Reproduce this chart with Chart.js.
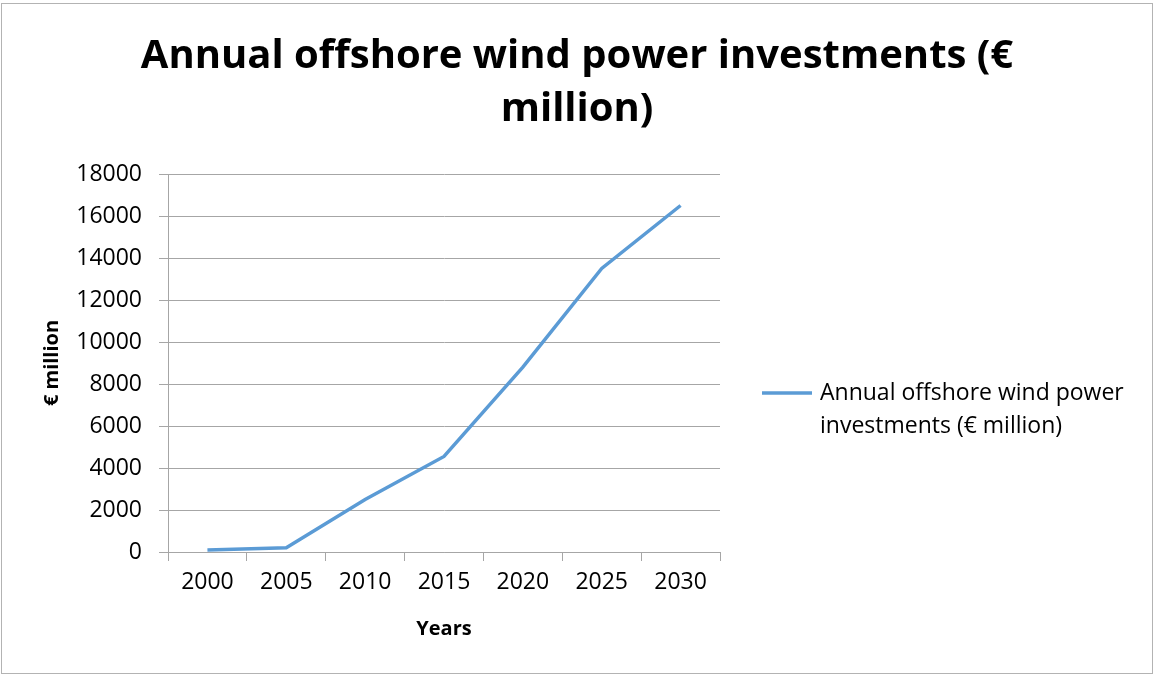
<!DOCTYPE html>
<html>
<head>
<meta charset="utf-8">
<script src="https://cdn.jsdelivr.net/npm/chart.js@4.4.1/dist/chart.umd.min.js"></script>
<style>
    html, body { margin: 0; padding: 0; background: #ffffff; }
    #wrap { width: 1154px; height: 675px; position: relative; }
</style>
</head>
<body>
<div id="wrap"><canvas id="windChart" width="1154" height="675"></canvas></div>
<script>
// --- Data ---
const years = ['2000', '2005', '2010', '2015', '2020', '2025', '2030'];
const investments = [100, 200, 2500, 4550, 8800, 13500, 16500];
const yTicks = [0, 2000, 4000, 6000, 8000, 10000, 12000, 14000, 16000, 18000];

const chartTitle = ['Annual offshore wind power investments (€', 'million)'];
const seriesLabel = 'Annual offshore wind power investments (€ million)';
const legendLines = ['Annual offshore wind power', 'investments (€ million)'];
const xTitle = 'Years';
const yTitle = '€ million';

const lineColor = '#5B9BD5';
const gridColor = '#a6a6a6';
const FONT = "'Open Sans', 'DejaVu Sans', sans-serif";

// white background + thin grey frame like the exported picture
const frame = {
    id: 'frame',
    beforeDraw(chart) {
        const c = chart.ctx;
        c.save();
        c.fillStyle = '#ffffff';
        c.fillRect(0, 0, chart.width, chart.height);
        c.strokeStyle = '#b3b3b3';
        c.lineWidth = 1;
        c.strokeRect(1.5, 3.5, chart.width - 3, chart.height - 5);
        c.restore();
    }
};

// title centred on the whole canvas (the built-in one centres on the padded box)
const bigTitle = {
    id: 'bigTitle',
    afterDraw(chart) {
        const c = chart.ctx;
        c.save();
        c.fillStyle = '#000000';
        c.font = 'bold 40px ' + FONT;
        c.textAlign = 'center';
        c.textBaseline = 'middle';
        chartTitle.forEach((t, i) => c.fillText(t, chart.width / 2, 57 + i * 53));
        c.restore();
    }
};

// legend on the right, text wrapped on two lines
const sideLegend = {
    id: 'sideLegend',
    afterDraw(chart) {
        const c = chart.ctx;
        const ds = chart.data.datasets[0];
        const x0 = chart.chartArea.right + 42;
        const y0 = 393;
        c.save();
        c.strokeStyle = ds.borderColor;
        c.lineWidth = ds.borderWidth;
        c.beginPath();
        c.moveTo(x0, y0);
        c.lineTo(x0 + 50, y0);
        c.stroke();
        c.fillStyle = '#000000';
        c.font = '23px ' + FONT;
        c.textBaseline = 'middle';
        legendLines.forEach((t, i) => c.fillText(t, x0 + 58, y0 + i * 33));
        c.restore();
    }
};

const ctx = document.getElementById('windChart').getContext('2d');

new Chart(ctx, {
    type: 'line',
    data: {
        labels: years,
        datasets: [{
            label: seriesLabel,
            data: investments,
            borderColor: lineColor,
            backgroundColor: lineColor,
            borderWidth: 3.5,
            pointRadius: 0,
            tension: 0,
            fill: false
        }]
    },
    options: {
        responsive: false,
        animation: false,
        devicePixelRatio: 1,
        layout: { padding: { left: 0, right: 434, top: 174, bottom: 0 } },
        plugins: {
            legend: { display: false },
            tooltip: { enabled: false },
            title: { display: false }
        },
        scales: {
            x: {
                type: 'category',
                offset: true,
                grid: {
                    offset: true,
                    drawOnChartArea: false,
                    drawTicks: true,
                    tickLength: 9,
                    color: gridColor
                },
                border: { display: true, color: gridColor, width: 1 },
                ticks: {
                    color: '#000000',
                    font: { family: FONT, size: 23 },
                    padding: 8,
                    maxRotation: 0
                },
                title: {
                    display: true,
                    text: xTitle,
                    color: '#000000',
                    font: { family: FONT, size: 20, weight: 'bold' },
                    padding: { top: 0, bottom: 34 }
                },
                afterFit: (scale) => { scale.height = 123; }
            },
            y: {
                min: 0,
                max: 18000,
                afterBuildTicks: (scale) => { scale.ticks = yTicks.map(v => ({ value: v })); },
                grid: {
                    color: gridColor,
                    drawTicks: true,
                    tickLength: 9
                },
                border: { display: true, color: gridColor, width: 1 },
                ticks: {
                    color: '#000000',
                    font: { family: FONT, size: 23 },
                    padding: 17,
                    callback: (v) => String(v)
                },
                title: {
                    display: true,
                    text: yTitle,
                    color: '#000000',
                    font: { family: FONT, size: 20, weight: 'bold' },
                    padding: { top: 40, bottom: 0 }
                },
                afterFit: (scale) => { scale.width = 168; }
            }
        }
    },
    plugins: [frame, bigTitle, sideLegend]
});
</script>
</body>
</html>
